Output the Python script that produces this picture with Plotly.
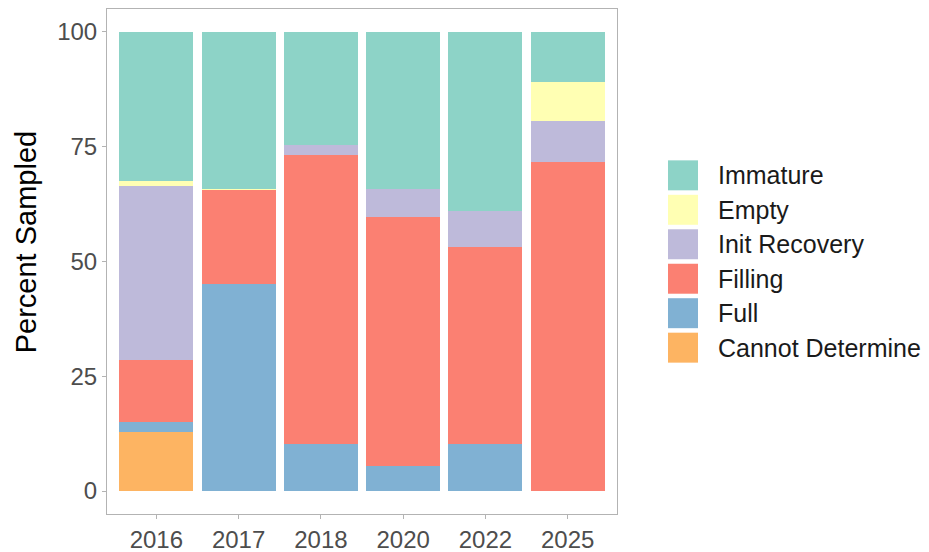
import plotly.graph_objects as go

years = ["2016", "2017", "2018", "2020", "2022", "2025"]
stages = ["Immature", "Empty", "Init Recovery", "Filling", "Full", "Cannot Determine"]
immature = [32.5, 34.1, 24.6, 34.3, 39.1, 11.0]
empty = [1.1, 0.3, 0.0, 0.0, 0.0, 8.4]
init_recovery = [37.9, 0.0, 2.1, 6.0, 7.7, 8.9]
filling = [13.4, 20.4, 63.0, 54.3, 42.9, 71.7]
full = [2.3, 45.2, 10.3, 5.4, 10.3, 0.0]
cannot_determine = [12.8, 0.0, 0.0, 0.0, 0.0, 0.0]
y_ticks = [0, 25, 50, 75, 100]

colors = {
    "Immature": "#8DD3C7",
    "Empty": "#FFFFB3",
    "Init Recovery": "#BEBADA",
    "Filling": "#FB8072",
    "Full": "#80B1D3",
    "Cannot Determine": "#FDB462",
}
values = {
    "Immature": immature,
    "Empty": empty,
    "Init Recovery": init_recovery,
    "Filling": filling,
    "Full": full,
    "Cannot Determine": cannot_determine,
}

FONT = "Liberation Sans, Arial, sans-serif"
OFF = 8  # page body margin offset
W, H = 929 - OFF, 552 - OFF
L, R, T, B = 107 - OFF, 617 - OFF, 8.5 - OFF, 514 - OFF  # plot panel in pixels

fig = go.Figure()
for s in reversed(stages):
    fig.add_trace(go.Bar(
        x=years, y=values[s], name=s,
        marker=dict(color=colors[s], line=dict(width=0)),
        showlegend=False,
    ))

def px_x(p):
    return (p - OFF - L) / (R - L)

def px_y(p):
    return (B - (p - OFF)) / (B - T)

# custom legend with large keys (positions in reference page pixels)
key_x0, key_x1 = 668, 698
text_x = 716
first_center, pitch, key_h = 175, 34.5, 30
shapes = []
annotations = []
for i, s in enumerate(stages):
    cy = first_center + i * pitch
    shapes.append(dict(
        type="rect", xref="paper", yref="paper",
        x0=px_x(key_x0), x1=px_x(key_x1),
        y0=px_y(cy + key_h / 2), y1=px_y(cy - key_h / 2),
        fillcolor=colors[s], line=dict(width=0),
    ))
    annotations.append(dict(
        xref="paper", yref="paper", x=px_x(text_x), y=px_y(cy),
        text=s, showarrow=False, xanchor="left", yanchor="middle",
        font=dict(family=FONT, size=25, color="#1a1a1a"),
    ))

annotations.append(dict(
    xref="paper", yref="paper", x=px_x(26), y=px_y(242),
    text="Percent Sampled", showarrow=False, textangle=-90,
    xanchor="center", yanchor="middle",
    font=dict(family=FONT, size=29, color="#000000"),
))

fig.update_layout(
    width=W, height=H,
    margin=dict(l=L, r=W - R, t=T, b=H - B, autoexpand=False),
    barmode="stack", bargap=0.1,
    plot_bgcolor="white", paper_bgcolor="white",
    shapes=shapes, annotations=annotations,
    font=dict(family=FONT),
)
fig.update_xaxes(
    type="category", range=[-0.6, 5.6],
    showline=True, mirror=True, linecolor="#b3b3b3", linewidth=1,
    ticks="outside", ticklen=4, tickcolor="#b3b3b3",
    tickfont=dict(family=FONT, size=24, color="#4d4d4d"),
    showgrid=False, zeroline=False,
)
fig.update_yaxes(
    range=[-5, 105], tickvals=y_ticks,
    showline=True, mirror=True, linecolor="#b3b3b3", linewidth=1,
    ticks="outside", ticklen=4, tickcolor="#b3b3b3",
    tickfont=dict(family=FONT, size=24, color="#4d4d4d"),
    showgrid=False, zeroline=False,
)

fig.write_html("out.html")
